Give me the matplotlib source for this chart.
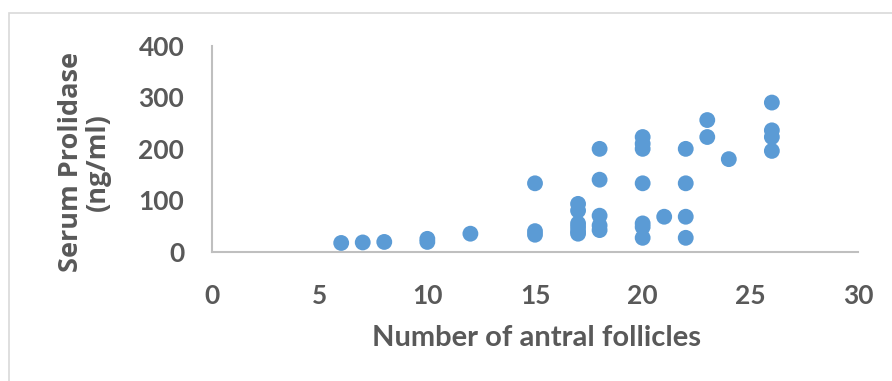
import matplotlib
matplotlib.use("Agg")
import matplotlib.pyplot as plt
from matplotlib.patches import Rectangle

# Data
follicles = [6, 7, 8, 10, 10, 12, 15, 15, 15,
             17, 17, 17, 17, 17, 17,
             18, 18, 18, 18, 18,
             20, 20, 20, 20, 20, 20, 20,
             21,
             22, 22, 22, 22,
             23, 23, 24,
             26, 26, 26, 26]
prolidase = [17, 18, 19, 19, 25, 35, 133, 33, 40,
             93, 80, 55, 48, 40, 35,
             200, 140, 70, 51, 42,
             223, 210, 200, 133, 55, 48, 27,
             68,
             200, 133, 68, 27,
             256, 223, 180,
             290, 236, 223, 196]

x_ticks = [0, 5, 10, 15, 20, 25, 30]
y_ticks = [0, 100, 200, 300, 400]

fig = plt.figure(figsize=(8.92, 3.81), dpi=100)
fig.patches.append(Rectangle((9/892, -0.1), 1.0, 1 - 13/381 + 0.1,
                             transform=fig.transFigure, fill=False,
                             edgecolor="#d9d9d9", linewidth=1.2))

ax = fig.add_axes([212/892, 1 - 251.7/381, (858 - 212)/892, (251.7 - 46)/381])
ax.scatter(follicles, prolidase, s=130, color="#5b9bd5", edgecolors="none",
           zorder=3, clip_on=False)

ax.set_xlim(0, 30)
ax.set_ylim(0, 400)
ax.set_xticks(x_ticks)
ax.set_yticks(y_ticks)

for s in ["top", "right"]:
    ax.spines[s].set_visible(False)
for s in ["left", "bottom"]:
    ax.spines[s].set_color("#bfbfbf")
    ax.spines[s].set_linewidth(1.5)

ax.tick_params(length=0, labelsize=19, labelcolor="#595959")
ax.tick_params(axis="x", pad=23)
ax.tick_params(axis="y", pad=20)
for lab in ax.get_xticklabels() + ax.get_yticklabels():
    lab.set_fontfamily("Lato")
    lab.set_fontweight("bold")

fig.text(537/892, 1 - 338/381, "Number of antral follicles", ha="center",
         va="center", fontsize=21, fontweight="bold", color="#595959",
         family="Lato")
fig.text(84/892, 1 - 162/381, "Serum Prolidase\n(ng/ml)", rotation=90,
         ha="center", va="center", fontsize=19.5, fontweight="bold",
         color="#595959", family="Open Sans", linespacing=1.05)

fig.savefig("out.png", dpi=100)
